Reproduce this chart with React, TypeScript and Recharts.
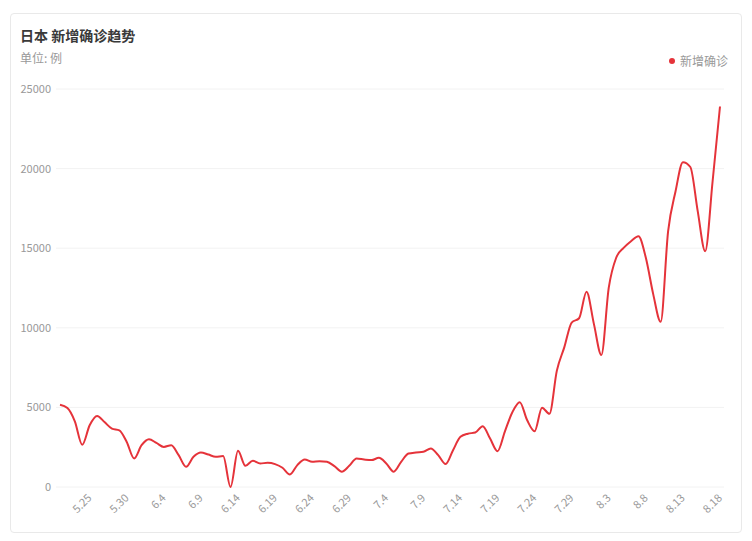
import React from 'react';
import { LineChart, Line, XAxis, YAxis, CartesianGrid } from 'recharts';

const dates = [
  '5.21', '5.22', '5.23', '5.24', '5.25', '5.26', '5.27', '5.28', '5.29', '5.30', '5.31',
  '6.1', '6.2', '6.3', '6.4', '6.5', '6.6', '6.7', '6.8', '6.9', '6.10',
  '6.11', '6.12', '6.13', '6.14', '6.15', '6.16', '6.17', '6.18', '6.19', '6.20',
  '6.21', '6.22', '6.23', '6.24', '6.25', '6.26', '6.27', '6.28', '6.29', '6.30',
  '7.1', '7.2', '7.3', '7.4', '7.5', '7.6', '7.7', '7.8', '7.9', '7.10',
  '7.11', '7.12', '7.13', '7.14', '7.15', '7.16', '7.17', '7.18', '7.19', '7.20',
  '7.21', '7.22', '7.23', '7.24', '7.25', '7.26', '7.27', '7.28', '7.29', '7.30', '7.31',
  '8.1', '8.2', '8.3', '8.4', '8.5', '8.6', '8.7', '8.8', '8.9', '8.10',
  '8.11', '8.12', '8.13', '8.14', '8.15', '8.16', '8.17', '8.18',
];

const newCases = [
  5170, 4960, 4125, 2650, 3875, 4460, 4080, 3670, 3560, 2830, 1790,
  2625, 3000, 2770, 2520, 2625, 2000, 1270, 1900, 2170, 2040,
  1900, 1940, 0, 2270, 1330, 1650, 1480, 1520, 1440, 1210,
  790, 1375, 1730, 1580, 1625, 1580, 1310, 960, 1330, 1790,
  1730, 1690, 1830, 1480, 960, 1580, 2100, 2170, 2210, 2420,
  2000, 1440, 2310, 3150, 3350, 3420, 3820, 3040, 2250, 3500,
  4700, 5330, 4190, 3500, 4980, 4600, 7310, 8770, 10330, 10600, 12270,
  10230, 8290, 12520, 14400, 15020, 15440, 15750, 14400, 12100, 10380,
  16060, 18560, 20400, 20100, 17310, 14810, 19190, 23900,
];

const xTickLabels = [
  '5.25', '5.30', '6.4', '6.9', '6.14', '6.19', '6.24', '6.29', '7.4',
  '7.9', '7.14', '7.19', '7.24', '7.29', '8.3', '8.8', '8.13', '8.18',
];

const yTicks = [0, 5000, 10000, 15000, 20000, 25000];

const seriesName = '新增确诊';
const title = '日本 新增确诊趋势';
const unitText = '单位: 例';

const data = dates.map((d, i) => ({ date: d, value: newCases[i] }));

const FONT = '"Noto Sans CJK SC", "Noto Sans", sans-serif';
const RED = '#e5333a';

const XTick = (props: any) => {
  const { x, y, payload } = props;
  if (!xTickLabels.includes(payload.value)) return <g />;
  return (
    <g transform={`translate(${x},${y + 9})`}>
      <text
        x={0}
        y={0}
        dy="0.35em"
        textAnchor="end"
        transform="rotate(-45)"
        fill="#999"
        fontSize={11}
        fontFamily={FONT}
      >
        {payload.value}
      </text>
    </g>
  );
};

export default function App() {
  return (
    <div
      style={{
        position: 'absolute',
        left: 10,
        top: 13,
        width: 732,
        height: 520,
        boxSizing: 'border-box',
        border: '1px solid #e9e9e9',
        borderRadius: 4,
        background: '#fff',
        fontFamily: FONT,
      }}
    >
      <div
        style={{
          position: 'absolute',
          left: 9,
          top: 11,
          lineHeight: '20px',
          fontSize: 14,
          fontWeight: 'bold',
          color: '#3a3a3a',
          whiteSpace: 'nowrap',
        }}
      >
        {title}
      </div>
      <div
        style={{
          position: 'absolute',
          left: 9,
          top: 35,
          lineHeight: '18px',
          fontSize: 12,
          color: '#999',
          whiteSpace: 'nowrap',
        }}
      >
        {unitText}
      </div>
      <div
        style={{
          position: 'absolute',
          right: 13,
          top: 38,
          lineHeight: '18px',
          fontSize: 12,
          color: '#999',
          display: 'flex',
          alignItems: 'center',
          whiteSpace: 'nowrap',
        }}
      >
        <span
          style={{
            display: 'inline-block',
            width: 6,
            height: 6,
            borderRadius: 3,
            background: RED,
            marginRight: 5,
          }}
        />
        {seriesName}
      </div>
      <div style={{ position: 'absolute', left: 0, top: 0 }}>
        <LineChart
          width={730}
          height={518}
          data={data}
          margin={{ top: 75, right: 17, bottom: 5, left: 0 }}
        >
          <CartesianGrid vertical={false} stroke="#f2f2f2" />
          <XAxis
            dataKey="date"
            interval={0}
            tickLine={false}
            axisLine={false}
            tickSize={0}
            tickMargin={0}
            height={40}
            padding={{ left: 4, right: 4 }}
            tick={<XTick />}
          />
          <YAxis
            domain={[0, 25000]}
            ticks={yTicks}
            width={45}
            axisLine={false}
            tickLine={false}
            tickSize={0}
            tickMargin={5}
            tick={{ fill: '#999', fontSize: 11, fontFamily: FONT }}
          />
          <Line
            type="monotone"
            dataKey="value"
            name={seriesName}
            stroke={RED}
            strokeWidth={2}
            dot={false}
            activeDot={false}
            isAnimationActive={false}
          />
        </LineChart>
      </div>
    </div>
  );
}
